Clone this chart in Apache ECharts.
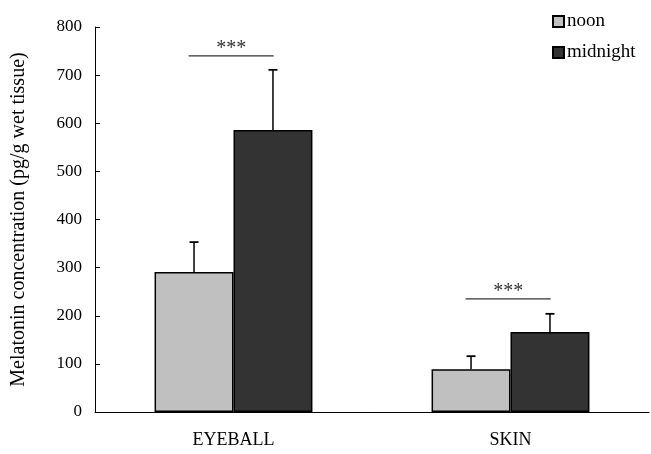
<!DOCTYPE html>
<html><head><meta charset="utf-8">
<script src="https://cdn.jsdelivr.net/npm/echarts@6/dist/echarts.min.js"></script>
<style>html,body{margin:0;padding:0;background:#fff}#c{width:651px;height:454px}</style>
</head><body><div id="c"></div>
<script>
const categories = ['EYEBALL', 'SKIN'];
const seriesNames = ['noon', 'midnight'];
const noon = [291, 89];
const midnight = [586, 166];
const noonErr = [62, 27];
const midnightErr = [125, 38];
const sigLevel = [740, 235];
const sigLabels = ['***', '***'];
const yMin = 0, yMax = 800, yStep = 100;

const FONT = '"Liberation Serif","Times New Roman",serif';
const BAR_FRAC = 0.285;

const chart = echarts.init(document.getElementById('c'));

function errItem(side) {
  return function (params, api) {
    const idx = api.value(0);
    const base = api.coord([idx, api.value(1)]);
    const top = api.coord([idx, api.value(1) + api.value(2)]);
    const band = api.size([1, 0])[0];
    const x = base[0] + side * band * BAR_FRAC / 2;
    return {
      type: 'group',
      children: [
        { type: 'line', shape: { x1: x, y1: base[1], x2: x, y2: top[1] }, style: { stroke: '#000', lineWidth: 1.5 } },
        { type: 'line', shape: { x1: x - 4.5, y1: top[1], x2: x + 4.5, y2: top[1] }, style: { stroke: '#000', lineWidth: 1.8 } }
      ]
    };
  };
}

const noonErrData = categories.map((c, i) => [i, noon[i], noonErr[i]]);
const midErrData = categories.map((c, i) => [i, midnight[i], midnightErr[i]]);
const sigData = categories.map((c, i) => [i, sigLevel[i]]);

chart.setOption({
  animation: false,
  backgroundColor: '#fff',
  textStyle: { fontFamily: FONT },
  grid: { left: 95, right: 2, top: 27, bottom: 42, containLabel: false },
  legend: {
    orient: 'vertical', left: 547, top: 7, itemWidth: 11, itemHeight: 11, itemGap: 12,
    icon: 'rect',
    textStyle: { fontFamily: FONT, fontSize: 19, color: '#000', padding: [0, 0, 0, -2] },
    data: seriesNames
  },
  xAxis: [{
    type: 'category', data: categories,
    axisLine: { lineStyle: { color: '#000', width: 1 } },
    axisTick: { length: 6, lineStyle: { color: '#000' } },
    axisLabel: { color: '#000', fontFamily: FONT, fontSize: 18, margin: 19 }
  }, {
    type: 'category', data: categories, position: 'bottom',
    axisLine: { show: false },
    axisTick: { inside: true, length: 6, lineStyle: { color: '#000' } },
    axisLabel: { show: false }
  }],
  yAxis: {
    type: 'value', min: yMin, max: yMax, interval: yStep,
    name: 'Melatonin concentration (pg/g wet tissue)',
    nameLocation: 'middle', nameGap: 66, nameRotate: 90,
    nameTextStyle: { color: '#000', fontFamily: FONT, fontSize: 20 },
    axisLine: { show: true, lineStyle: { color: '#000', width: 1 } },
    axisTick: { show: true, inside: true, length: 5, lineStyle: { color: '#000' } },
    axisLabel: { color: '#000', fontFamily: FONT, fontSize: 17, margin: 13 },
    splitLine: { show: false }
  },
  series: [
    { name: 'noon', type: 'bar', data: noon, barWidth: (BAR_FRAC * 100) + '%', barGap: '0%',
      itemStyle: { color: '#c0c0c0', borderColor: '#000', borderWidth: 1.5 } },
    { name: 'midnight', type: 'bar', data: midnight, barWidth: (BAR_FRAC * 100) + '%', barGap: '0%',
      itemStyle: { color: '#333333', borderColor: '#000', borderWidth: 1.5 } },
    { type: 'custom', renderItem: errItem(-1), data: noonErrData, z: 5, silent: true },
    { type: 'custom', renderItem: errItem(1), data: midErrData, z: 5, silent: true },
    { type: 'custom', z: 5, silent: true, data: sigData,
      renderItem: function (params, api) {
        const idx = api.value(0);
        const p = api.coord([idx, api.value(1)]);
        const band = api.size([1, 0])[0];
        const x1 = p[0] - band * 0.162, x2 = p[0] + band * 0.145;
        return { type: 'group', children: [
          { type: 'line', shape: { x1: x1, y1: p[1], x2: x2, y2: p[1] }, style: { stroke: '#333', lineWidth: 1.3 } },
          { type: 'text', style: { text: sigLabels[idx], x: (x1 + x2) / 2, y: p[1] - 7, textAlign: 'center', textVerticalAlign: 'middle', font: '20px ' + FONT, fill: '#333' } }
        ] };
      } }
  ]
});
</script></body></html>
